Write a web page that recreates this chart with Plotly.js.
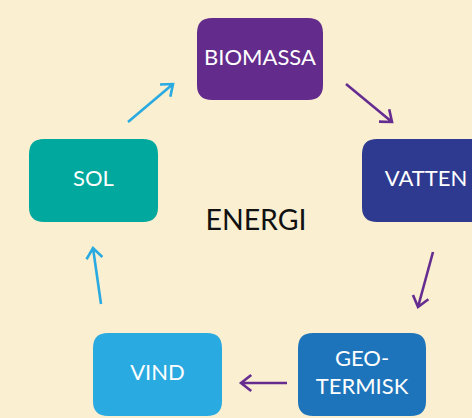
<!DOCTYPE html>
<html><head><meta charset="utf-8">
<script src="https://cdn.plot.ly/plotly-3.0.1.min.js"></script>
<style>html,body{margin:0;padding:0;background:#FAEFD1;overflow:hidden;}</style>
</head><body><div id="chart" style="width:472px;height:418px;"></div>
<script>
// Node content
const nodeLabels = ["BIOMASSA", "VATTEN", "GEO-<br>TERMISK", "VIND", "SOL"];
const nodeColors = ["#632C8C", "#2E3A8F", "#1E74BA", "#29AAE1", "#00A89D"];
const centerLabel = ["ENERGI"];

// Layout geometry (pixel space of the 472x418 canvas)
const boxX0 = [197, 362, 298, 93, 29];
const boxX1 = [323, 490, 426, 222, 158];
const boxY0 = [18, 139, 333, 333, 139];
const boxY1 = [100, 222, 416, 416, 222];

// Arrows: from -> to (cycle), style
const arrowFromX = [128, 346, 433, 287, 101];
const arrowFromY = [122, 84, 252, 383, 304];
const arrowToX = [173, 392, 418, 241, 93];
const arrowToY = [84, 122, 307, 383, 248];
const arrowColors = ["#29AAE1", "#662D91", "#662D91", "#662D91", "#29AAE1"];

const BG = "#FAEFD1";
const R = 15;

function roundRect(x0, y0, x1, y1, r) {
  return `M${x0+r},${y0} L${x1-r},${y0} Q${x1},${y0} ${x1},${y0+r} L${x1},${y1-r} Q${x1},${y1} ${x1-r},${y1} L${x0+r},${y1} Q${x0},${y1} ${x0},${y1-r} L${x0},${y0+r} Q${x0},${y0} ${x0+r},${y0} Z`;
}
function arrowPath(sx, sy, tx, ty) {
  const ang = Math.atan2(ty - sy, tx - sx);
  const L = 13, a = 38 * Math.PI / 180;
  const h1x = tx - L * Math.cos(ang - a), h1y = ty - L * Math.sin(ang - a);
  const h2x = tx - L * Math.cos(ang + a), h2y = ty - L * Math.sin(ang + a);
  return `M${sx},${sy} L${tx},${ty} M${h1x},${h1y} L${tx},${ty} L${h2x},${h2y}`;
}

const shapes = [];
for (let i = 0; i < nodeLabels.length; i++) {
  shapes.push({type: "path", xref: "x", yref: "y", layer: "below",
    path: roundRect(boxX0[i], boxY0[i], boxX1[i], boxY1[i], R),
    fillcolor: nodeColors[i], line: {width: 0}});
}
for (let i = 0; i < arrowFromX.length; i++) {
  shapes.push({type: "path", xref: "x", yref: "y", layer: "below",
    path: arrowPath(arrowFromX[i], arrowFromY[i], arrowToX[i], arrowToY[i]),
    line: {color: arrowColors[i], width: 2.6}});
}

const labelX = boxX0.map((v, i) => (v + boxX1[i]) / 2);
const labelY = boxY0.map((v, i) => (v + boxY1[i]) / 2);

const traces = [
  {type: "scatter", mode: "text", x: labelX, y: labelY, text: nodeLabels,
   textposition: "middle center", cliponaxis: false, hoverinfo: "skip",
   textfont: {family: "Lato, 'Open Sans', sans-serif", size: 22, color: "#FFFFFF"}},
  {type: "scatter", mode: "text", x: [256], y: [223], text: centerLabel,
   textposition: "middle center", hoverinfo: "skip",
   textfont: {family: "Lato, 'Open Sans', sans-serif", size: 28.5, color: "#111111"}}
];

const layout = {
  width: 472, height: 418,
  margin: {l: 0, r: 0, t: 0, b: 0},
  paper_bgcolor: BG, plot_bgcolor: BG,
  showlegend: false,
  xaxis: {range: [0, 472], visible: false, fixedrange: true},
  yaxis: {range: [418, 0], visible: false, fixedrange: true},
  shapes: shapes
};

Plotly.newPlot("chart", traces, layout, {staticPlot: true, displayModeBar: false});
</script>
</body></html>
